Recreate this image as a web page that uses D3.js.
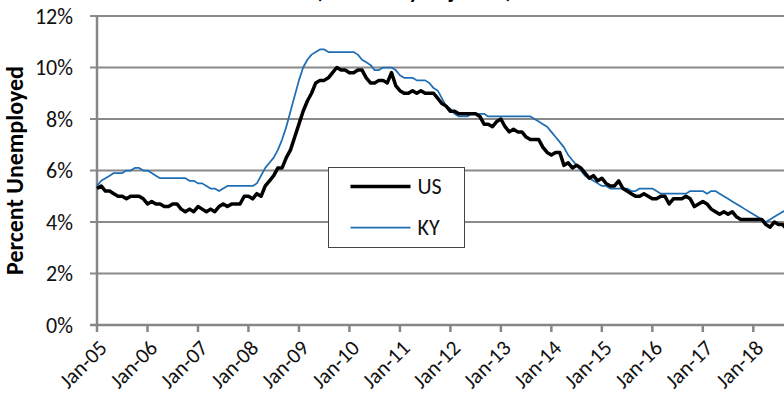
<!DOCTYPE html>
<html>
<head>
<meta charset="utf-8">
<title>Unemployment rate, US and KY</title>
<script src="https://d3js.org/d3.v7.min.js"></script>
<style>
  html, body { margin: 0; padding: 0; background: #fff; overflow: hidden; }
  svg { display: block; font-family: Carlito, Calibri, Lato, sans-serif; }
</style>
</head>
<body>
<svg id="chart" width="784" height="408"></svg>
<script>
// monthly rates, Jan 2005 onwards (seasonally adjusted, percent)
const usRate = [
  5.3, 5.4, 5.2, 5.2, 5.1, 5.0, 5.0, 4.9, 5.0, 5.0, 5.0, 4.9,   // 2005
  4.7, 4.8, 4.7, 4.7, 4.6, 4.6, 4.7, 4.7, 4.5, 4.4, 4.5, 4.4,   // 2006
  4.6, 4.5, 4.4, 4.5, 4.4, 4.6, 4.7, 4.6, 4.7, 4.7, 4.7, 5.0,   // 2007
  5.0, 4.9, 5.1, 5.0, 5.4, 5.6, 5.8, 6.1, 6.1, 6.5, 6.8, 7.3,   // 2008
  7.8, 8.3, 8.7, 9.0, 9.4, 9.5, 9.5, 9.6, 9.8, 10.0, 9.9, 9.9,  // 2009
  9.8, 9.8, 9.9, 9.9, 9.6, 9.4, 9.4, 9.5, 9.5, 9.4, 9.8, 9.3,   // 2010
  9.1, 9.0, 9.0, 9.1, 9.0, 9.1, 9.0, 9.0, 9.0, 8.8, 8.6, 8.5,   // 2011
  8.3, 8.3, 8.2, 8.2, 8.2, 8.2, 8.2, 8.1, 7.8, 7.8, 7.7, 7.9,   // 2012
  8.0, 7.7, 7.5, 7.6, 7.5, 7.5, 7.3, 7.2, 7.2, 7.2, 6.9, 6.7,   // 2013
  6.6, 6.7, 6.7, 6.2, 6.3, 6.1, 6.2, 6.1, 5.9, 5.7, 5.8, 5.6,   // 2014
  5.7, 5.5, 5.4, 5.4, 5.6, 5.3, 5.2, 5.1, 5.0, 5.0, 5.1, 5.0,   // 2015
  4.9, 4.9, 5.0, 5.0, 4.7, 4.9, 4.9, 4.9, 5.0, 4.9, 4.6, 4.7,   // 2016
  4.8, 4.7, 4.5, 4.4, 4.3, 4.4, 4.3, 4.4, 4.2, 4.1, 4.1, 4.1,   // 2017
  4.1, 4.1, 4.1, 3.9, 3.8, 4.0, 3.9, 3.9, 3.7                   // 2018
];
const kyRate = [
  5.4, 5.6, 5.7, 5.8, 5.9, 5.9, 5.9, 6.0, 6.0, 6.1, 6.1, 6.0,
  6.0, 5.9, 5.8, 5.7, 5.7, 5.7, 5.7, 5.7, 5.7, 5.7, 5.6, 5.6,
  5.5, 5.5, 5.4, 5.3, 5.3, 5.2, 5.3, 5.4, 5.4, 5.4, 5.4, 5.4,
  5.4, 5.4, 5.5, 5.8, 6.1, 6.3, 6.5, 6.8, 7.2, 7.7, 8.3, 8.9,
  9.5, 10.0, 10.3, 10.5, 10.6, 10.7, 10.7, 10.6, 10.6, 10.6, 10.6, 10.6,
  10.6, 10.6, 10.5, 10.3, 10.2, 10.1, 9.9, 9.9, 10.0, 10.0, 10.0, 9.9,
  9.7, 9.6, 9.6, 9.6, 9.5, 9.5, 9.5, 9.4, 9.2, 9.1, 8.8, 8.5,
  8.4, 8.2, 8.1, 8.1, 8.1, 8.2, 8.2, 8.2, 8.2, 8.1, 8.1, 8.1,
  8.1, 8.1, 8.1, 8.1, 8.1, 8.1, 8.1, 8.1, 8.0, 7.9, 7.8, 7.7,
  7.5, 7.3, 7.1, 6.9, 6.6, 6.4, 6.2, 6.0, 5.8, 5.7, 5.6, 5.5,
  5.4, 5.4, 5.3, 5.3, 5.3, 5.3, 5.3, 5.2, 5.2, 5.3, 5.3, 5.3,
  5.3, 5.2, 5.1, 5.1, 5.1, 5.1, 5.1, 5.1, 5.1, 5.2, 5.2, 5.2,
  5.2, 5.1, 5.2, 5.2, 5.1, 5.0, 4.9, 4.8, 4.7, 4.6, 4.5, 4.4,
  4.3, 4.2, 4.1, 4.0, 4.1, 4.2, 4.3, 4.4, 4.5
];
const series = [
  {name: 'US', values: usRate, color: '#000', width: 3.5},
  {name: 'KY', values: kyRate, color: '#1f6db5', width: 1.75}
];
const yTicks = [0, 2, 4, 6, 8, 10, 12];
const xTickLabels = ['Jan-05','Jan-06','Jan-07','Jan-08','Jan-09','Jan-10','Jan-11',
                     'Jan-12','Jan-13','Jan-14','Jan-15','Jan-16','Jan-17','Jan-18'];

const svg = d3.select('#chart');
const plotLeft = 97, plotTop = 16, plotBottom = 325;

// month index -> x; plot area runs past the right edge of the picture
const x = d3.scaleLinear().domain([0, 156]).range([plotLeft, 753.3]);
const y = d3.scaleLinear().domain([0, 12]).range([plotBottom, plotTop]);
const xEnd = x(175);

// title: the picture only shows the bottom of its second line
svg.append('text')
  .attr('x', 414).attr('y', -2)
  .attr('text-anchor', 'middle')
  .style('font-size', '22px').style('font-weight', 'bold')
  .text('(Seasonally Adjusted)');

// gridlines + y labels
svg.append('g').selectAll('line').data(yTicks.filter(d => d > 0)).enter().append('line')
  .attr('x1', plotLeft - 7).attr('x2', xEnd)
  .attr('y1', d => y(d)).attr('y2', d => y(d))
  .attr('stroke', '#8a8a8a').attr('stroke-width', 2);

svg.append('g').selectAll('text').data(yTicks).enter().append('text')
  .attr('x', 73).attr('y', d => y(d)).attr('dy', '0.36em')
  .attr('text-anchor', 'end')
  .style('font-size', '22px').attr('fill', '#111')
  .text(d => d + '%');

svg.append('text')
  .attr('transform', 'translate(23,' + ((plotTop + plotBottom) / 2) + ') rotate(-90)')
  .attr('text-anchor', 'middle')
  .style('font-size', '24px').style('font-weight', 'bold')
  .text('Percent Unemployed');

// axes
svg.append('line').attr('x1', plotLeft).attr('x2', plotLeft).attr('y1', plotTop).attr('y2', plotBottom)
  .attr('stroke', '#868686').attr('stroke-width', 2.5);
svg.append('line').attr('x1', plotLeft - 7).attr('x2', xEnd).attr('y1', plotBottom).attr('y2', plotBottom)
  .attr('stroke', '#868686').attr('stroke-width', 2.5);

const xt = svg.append('g').selectAll('g').data(xTickLabels).enter().append('g')
  .attr('transform', (d, i) => 'translate(' + x(i * 12) + ',' + plotBottom + ')');
xt.append('line').attr('y1', 0).attr('y2', 7).attr('stroke', '#868686').attr('stroke-width', 2.5);
xt.append('text')
  .attr('transform', 'translate(6,19) rotate(-45)')
  .attr('text-anchor', 'end').attr('dy', '0.35em')
  .style('font-size', '21.5px').attr('fill', '#111')
  .text(d => d);

// lines
const line = d3.line().x((d, i) => x(i)).y(d => y(d));
svg.append('g').selectAll('path').data(series.slice().reverse()).enter().append('path')
  .attr('d', d => line(d.values))
  .attr('fill', 'none')
  .attr('stroke', d => d.color)
  .attr('stroke-width', d => d.width)
  .attr('stroke-linejoin', 'round');

// legend
const lg = svg.append('g').attr('transform', 'translate(328.5,167.5)');
lg.append('rect').attr('width', 136).attr('height', 80)
  .attr('fill', '#fff').attr('stroke', '#444').attr('stroke-width', 1);
const li = lg.selectAll('g').data(series).enter().append('g')
  .attr('transform', (d, i) => 'translate(0,' + (19 + i * 41) + ')');
li.append('line').attr('x1', 22).attr('x2', 82)
  .attr('stroke', d => d.color).attr('stroke-width', d => d.width);
li.append('text').attr('x', 89).attr('dy', '0.36em')
  .style('font-size', '22px').attr('fill', '#111')
  .text(d => d.name);
</script>
</body>
</html>
